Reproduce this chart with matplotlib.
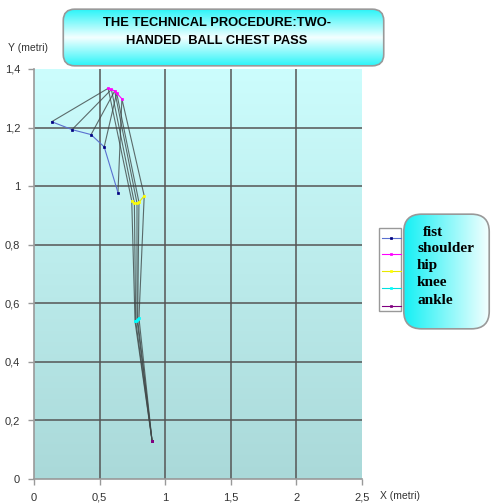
import numpy as np
import matplotlib.pyplot as plt
from matplotlib.patches import FancyBboxPatch, Rectangle
from matplotlib.colors import LinearSegmentedColormap

# dati (5 fotogrammi)
fist_x = [0.135, 0.29, 0.435, 0.535, 0.64]
fist_y = [1.22, 1.193, 1.176, 1.134, 0.978]
shoulder_x = [0.565, 0.59, 0.615, 0.63, 0.67]
shoulder_y = [1.334, 1.33, 1.325, 1.318, 1.298]
hip_x = [0.745, 0.765, 0.785, 0.80, 0.84]
hip_y = [0.95, 0.943, 0.942, 0.945, 0.967]
knee_x = [0.77, 0.775, 0.785, 0.79, 0.80]
knee_y = [0.538, 0.54, 0.543, 0.545, 0.55]
ankle_x = [0.90, 0.90, 0.90, 0.90, 0.90]
ankle_y = [0.13, 0.13, 0.13, 0.13, 0.13]

names = ['fist', 'shoulder', 'hip', 'knee', 'ankle']
colors = ['#000080', '#ff00ff', '#ffff00', '#00ffff', '#800080']
line_colors = ['#5a70d0', '#ff00ff', '#e8e800', '#00e0e0', '#800080']
x_ticks = [0, 0.5, 1, 1.5, 2, 2.5]
y_ticks = [0, 0.2, 0.4, 0.6, 0.8, 1, 1.2, 1.4]

title = 'THE TECHNICAL PROCEDURE:TWO-\nHANDED  BALL CHEST PASS'

plt.rcParams['font.family'] = ['Liberation Sans', 'DejaVu Sans']

W, H = 492, 503
fig = plt.figure(figsize=(W / 100, H / 100), dpi=100)


def fx(px):
    return px / W


def fy(py):
    return 1 - py / H


ax = fig.add_axes([fx(34), fy(479), fx(362) - fx(34), fy(69) - fy(479)])

# sfondo sfumato
bg = LinearSegmentedColormap.from_list('bg', ['#aad9d9', '#ccfdfd'])
grad = np.linspace(0, 1, 256).reshape(-1, 1)
ax.imshow(grad, cmap=bg, origin='lower', extent=[0, 2.5, 0, 1.4],
          aspect='auto', zorder=0)

for v in x_ticks[1:-1]:
    ax.axvline(v, color='#555555', lw=1.1, zorder=1)
for v in y_ticks[1:-1]:
    ax.axhline(v, color='#555555', lw=1.1, zorder=1)

xs = [fist_x, shoulder_x, hip_x, knee_x, ankle_x]
ys = [fist_y, shoulder_y, hip_y, knee_y, ankle_y]

# segmenti del corpo per ogni fotogramma
for i in range(len(fist_x)):
    ax.plot([s[i] for s in xs], [s[i] for s in ys], color='#404848',
            lw=0.8, alpha=0.8, zorder=2)

# serie
for k in range(5):
    ax.plot(xs[k], ys[k], color=line_colors[k], lw=0.8, zorder=3)
    ax.plot(xs[k], ys[k], ls='none', marker='s', ms=1.8, mew=0.5,
            color=colors[k], zorder=4)

ax.set_xlim(0, 2.5)
ax.set_ylim(0, 1.4)
ax.set_xticks(x_ticks)
ax.set_yticks(y_ticks)
ax.set_xticklabels([('%g' % v).replace('.', ',') for v in x_ticks])
ax.set_yticklabels([('%g' % v).replace('.', ',') for v in y_ticks])
ax.tick_params(labelsize=8, colors='#999999', labelcolor='#333333',
               length=4, width=1, pad=6)
for s in ['top', 'right']:
    ax.spines[s].set_visible(False)
for s in ['left', 'bottom']:
    ax.spines[s].set_color('#999999')
    ax.spines[s].set_linewidth(1.2)

fig.text(fx(28), fy(48), 'Y (metri)', fontsize=7.5, color='#333333',
         ha='center', va='center')
fig.text(fx(380), fy(496), 'X (metri)', fontsize=7.5, color='#333333',
         ha='left', va='center')

# riquadro del titolo
tax = fig.add_axes([fx(60), fy(67), fx(387) - fx(60), fy(8) - fy(67)])
tax.set_xlim(0, 1)
tax.set_ylim(0, 1)
tax.axis('off')
tcm = LinearSegmentedColormap.from_list('t', ['#22f4f8', '#f4ffff', '#22f4f8'])
im = tax.imshow(np.linspace(0, 1, 256).reshape(-1, 1), cmap=tcm,
                extent=[0, 1, 0, 1], aspect='auto', origin='lower')
box = FancyBboxPatch((0.01, 0.02), 0.98, 0.96,
                     boxstyle='round,pad=0,rounding_size=0.035',
                     mutation_aspect=5.5, fc='none', ec='#999999', lw=1.2)
tax.add_patch(box)
im.set_clip_path(box)
fig.text(fx(217), fy(32), title, ha='center', va='center', fontsize=9.3,
         fontweight='bold', linespacing=1.7)

# legenda
lax = fig.add_axes([0, 0, 1, 1])
lax.set_xlim(0, W)
lax.set_ylim(H, 0)
lax.axis('off')
lax.add_patch(Rectangle((379, 228), 22, 83, fc='white', ec='#999999', lw=1))
ly = [238, 254, 271, 288, 306]
for k in range(5):
    lax.plot([382, 401], [ly[k], ly[k]], color=line_colors[k], lw=0.8)
    lax.plot([391], [ly[k]], ls='none', marker='s', ms=1.8, mew=0.5,
             color=colors[k])

bax = fig.add_axes([fx(402), fy(330), fx(491) - fx(402), fy(213) - fy(330)])
bax.set_xlim(0, 1)
bax.set_ylim(0, 1)
bax.axis('off')
lcm = LinearSegmentedColormap.from_list('l', ['#10f0f4', '#f8ffff'])
im2 = bax.imshow(np.linspace(0, 1, 256).reshape(1, -1), cmap=lcm,
                 extent=[0, 1, 0, 1], aspect='auto', origin='lower')
box2 = FancyBboxPatch((0.02, 0.01), 0.96, 0.98,
                      boxstyle='round,pad=0,rounding_size=0.2',
                      mutation_aspect=0.75, fc='none', ec='#999999', lw=1.2)
bax.add_patch(box2)
im2.set_clip_path(box2)
ty = [233, 249, 266, 283, 300]
for k in range(5):
    fig.text(fx(417 if k else 423), fy(ty[k]), names[k], ha='left',
             va='center', fontsize=11, fontweight='bold',
             family='Liberation Serif')

fig.savefig('out.png', dpi=100)
